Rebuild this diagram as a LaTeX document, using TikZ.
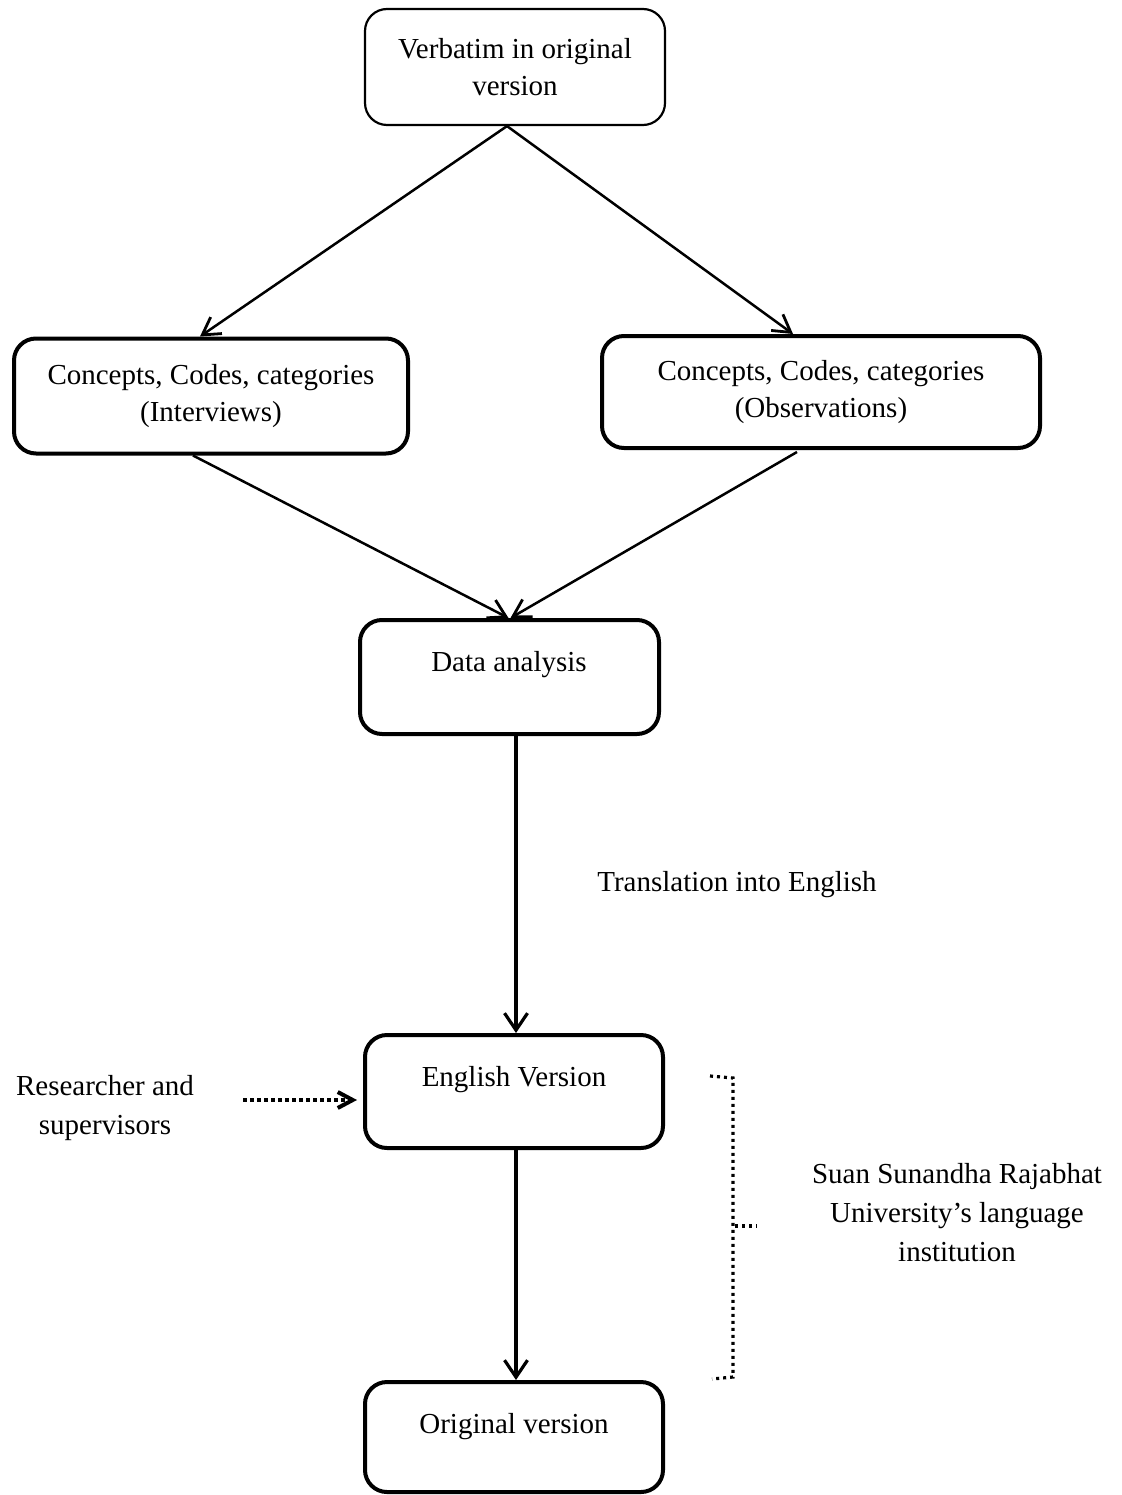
\documentclass[tikz,border=0pt]{standalone}
\usepackage{fontspec}
\setmainfont{Liberation Serif}
\usetikzlibrary{arrows.meta,calc}
\begin{document}
\begin{tikzpicture}[x=1pt,y=-1pt,
  font=\fontsize{29}{37}\selectfont,
  box/.style={draw=black, rounded corners=22pt, line width=4pt, inner sep=0pt, align=center},
  thinbox/.style={box, line width=2.2pt},
  txt/.style={inner sep=0pt, anchor=base, align=center},
  arr/.style={line width=2.5pt, -{Straight Barb[length=17pt,width=20pt,line width=2.8pt]}},
  varr/.style={line width=3.2pt, -{Straight Barb[length=17pt,width=23pt,line width=3.2pt]}},
  dotarr/.style={line width=4pt, dash pattern=on 4pt off 3pt, -{Straight Barb[length=15pt,width=16pt,line width=4pt]}},
  dotbr/.style={line width=3.2pt, dash pattern=on 3pt off 4pt}
]
\useasboundingbox (0,0) rectangle (1121,1495);

% boxes
\node[thinbox, minimum width=300pt, minimum height=116pt] (top) at (515,67) {Verbatim in original\\version};
\node[box, minimum width=394pt, minimum height=115pt] (intv) at (211,396) {Concepts, Codes, categories\\(Interviews)};
\node[box, minimum width=438pt, minimum height=112pt] (obs) at (821,392) {Concepts, Codes, categories\\(Observations)};
\node[box, minimum width=299pt, minimum height=114pt] (da) at (509.5,677) {};
\node[box, minimum width=298pt, minimum height=113pt] (eng) at (514,1091.5) {};
\node[box, minimum width=298pt, minimum height=110pt] (orig) at (514,1437) {};

% texts
\node[txt] (datxt) at (509,671) {Data analysis};
\node[txt] (engtxt) at (514,1086) {English Version};
\node[txt] (origtxt) at (514,1433) {Original version};
\node[txt] (trans) at (737,891) {Translation into English};
\node[txt] (res1) at (105,1095) {Researcher and};
\node[txt] (res2) at (105,1134) {supervisors};
\node[txt] (suan1) at (957,1183) {Suan Sunandha Rajabhat};
\node[txt] (suan2) at (957,1222) {University’s language};
\node[txt] (suan3) at (957,1261) {institution};

% connectors
\coordinate (split) at ($(top.south)+(-8,0)$);
\draw[arr] (split) -- ($(intv.north)+(-11,0)$);
\draw[arr] (split) -- ($(obs.north)+(-28,0)$);
\draw[arr] ($(intv.south)+(-18,0)$) -- ($(da.north)+(-1,0)$);
\draw[arr] ($(obs.south)+(-24,2)$) -- ($(da.north)+(1,0)$);
\draw[varr] ($(da.south)+(6.5,0)$) -- ($(eng.north)+(2,0)$);
\draw[varr] ($(eng.south)+(2,0)$) -- ($(orig.north)+(2,0)$);

\coordinate (resend) at (243,1100);
\draw[dotarr] (resend) -- ($(eng.west)+(-6,8.5)$);

% dotted bracket
\coordinate (brtop) at (710,1076);
\coordinate (brbot) at (712,1379);
\coordinate (brmid) at (735,1226);
\coordinate (brtip) at (757,1226);
\draw[dotbr] (brtop) -- (733,1078) -- (733,1377) -- (brbot);
\draw[dotbr] (brmid) -- (brtip);
\end{tikzpicture}
\end{document}
